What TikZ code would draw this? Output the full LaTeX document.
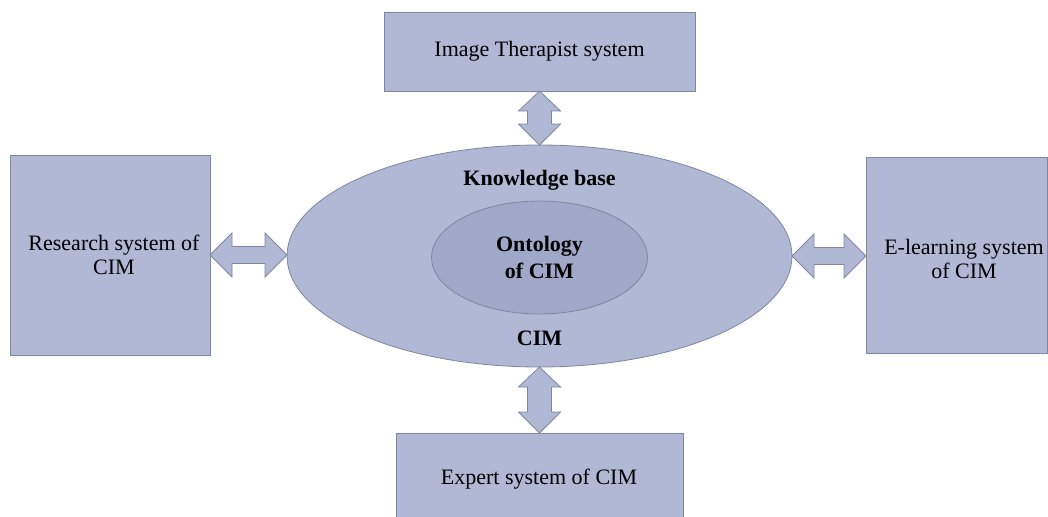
\documentclass[tikz,border=0pt]{standalone}
\usepackage{fontspec}
\setmainfont{Liberation Serif}
\usetikzlibrary{calc,shapes.geometric}
\definecolor{boxfill}{RGB}{176,184,213}
\definecolor{innerfill}{RGB}{160,168,201}
\definecolor{edgecol}{RGB}{128,134,160}
% vertical double arrow between two points (first above second)
\newcommand\vdarrow[2]{%
  \path[dblarrow] let \p1=(#1), \p2=(#2) in
    (\x1,\y1) -- (\x1+21pt,\y1-20pt) -- (\x1+12pt,\y1-20pt) -- (\x1+12pt,\y2+21pt)
    -- (\x1+21pt,\y2+21pt) -- (\x1,\y2) -- (\x1-21pt,\y2+21pt) -- (\x1-12pt,\y2+21pt)
    -- (\x1-12pt,\y1-20pt) -- (\x1-21pt,\y1-20pt) -- cycle;}
% horizontal double arrow between two points (first left of second)
\newcommand\hdarrow[2]{%
  \path[dblarrow] let \p1=(#1), \p2=(#2) in
    (\x1,\y1) -- (\x1+22pt,\y1+22pt) -- (\x1+22pt,\y1+8.5pt) -- (\x2-22pt,\y1+8.5pt)
    -- (\x2-22pt,\y1+22pt) -- (\x2,\y1) -- (\x2-22pt,\y1-22pt) -- (\x2-22pt,\y1-8.5pt)
    -- (\x1+22pt,\y1-8.5pt) -- (\x1+22pt,\y1-22pt) -- cycle;}
\begin{document}
\begin{tikzpicture}[x=1pt,y=-1pt,
  sysbox/.style={draw=edgecol, fill=boxfill, line width=0.8pt, inner sep=0pt, outer sep=0pt},
  lbl/.style={font=\fontsize{22}{24}\selectfont, align=center, inner sep=0pt},
  blbl/.style={font=\fontsize{22}{27}\selectfont\bfseries, align=center, inner sep=0pt},
  dblarrow/.style={draw=edgecol, fill=boxfill, line width=0.8pt, line join=miter},
  ell/.style={ellipse, draw=edgecol, line width=0.8pt, inner sep=0pt, outer sep=0pt}]
\useasboundingbox (0,0) rectangle (1048,516);
\clip (0,0) rectangle (1048,516);
\fill[white] (0,0) rectangle (1048,516);
% boxes
\node[sysbox, lbl, minimum width=311pt, minimum height=79pt] (topbox) at (539.5,51.5) {Image Therapist system};
\node[sysbox, minimum width=200pt, minimum height=200pt] (leftbox) at (110,255) {};
\node[lbl] (lefttext) at (114,255) {Research system of\\CIM};
\node[sysbox, minimum width=181pt, minimum height=196pt] (rightbox) at (956.5,255) {};
\node[lbl] (righttext) at (964,259) {E-learning system\\of CIM};
\node[sysbox, minimum width=287pt, minimum height=90pt] (botbox) at (539.5,478) {};
\node[lbl] (bottext) at (539,479) {Expert system of CIM};
% knowledge base
\node[ell, fill=boxfill, minimum width=505pt, minimum height=222pt] (kb) at (539.5,256) {};
\node[ell, fill=innerfill, minimum width=216pt, minimum height=113pt, blbl] (onto) at (539.5,257.5) {Ontology\\of CIM};
\node[blbl] (kbtext) at (539.5,180) {Knowledge base};
\node[blbl] (cimtext) at (539.5,338) {CIM};
% double arrows
\vdarrow{topbox.south}{kb.north}
\vdarrow{kb.south}{botbox.north}
\hdarrow{leftbox.east}{kb.west}
\hdarrow{kb.east}{rightbox.west}
\end{tikzpicture}
\end{document}
